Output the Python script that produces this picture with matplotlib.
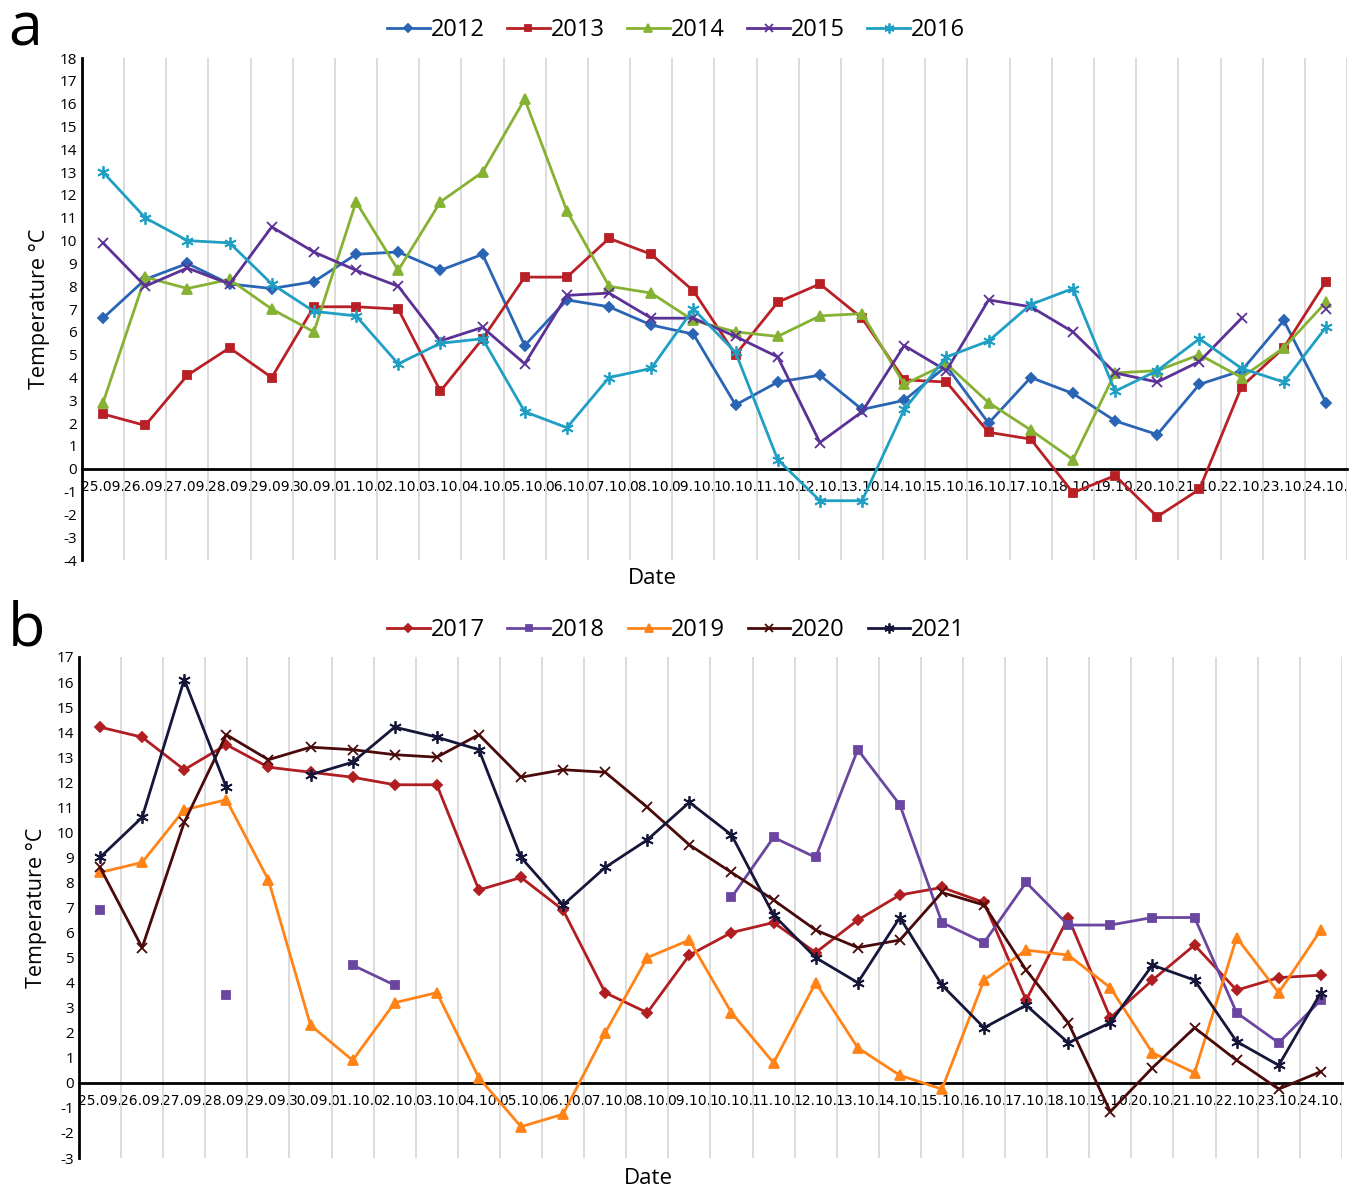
import numpy as np
import matplotlib
matplotlib.use("Agg")
import matplotlib.pyplot as plt

nan = np.nan

dates = ["25.09.", "26.09.", "27.09.", "28.09.", "29.09.", "30.09.",
         "01.10.", "02.10.", "03.10.", "04.10.", "05.10.", "06.10.", "07.10.",
         "08.10.", "09.10.", "10.10.", "11.10.", "12.10.", "13.10.", "14.10.",
         "15.10.", "16.10.", "17.10.", "18.10.", "19.10.", "20.10.", "21.10.",
         "22.10.", "23.10.", "24.10."]

# panel a
t2012 = [6.6, 8.3, 9.0, 8.1, 7.9, 8.2, 9.4, 9.5, 8.7, 9.4, 5.4, 7.4, 7.1, 6.3, 5.9,
         2.8, 3.8, 4.1, 2.6, 3.0, 4.5, 2.0, 4.0, 3.3, 2.1, 1.5, 3.7, 4.3, 6.5, 2.9]
t2013 = [2.4, 1.9, 4.1, 5.3, 4.0, 7.1, 7.1, 7.0, 3.4, 5.7, 8.4, 8.4, 10.1, 9.4, 7.8,
         5.0, 7.3, 8.1, 6.6, 3.9, 3.8, 1.6, 1.3, -1.05, -0.3, -2.1, -0.9, 3.6, 5.3, 8.2]
t2014 = [2.9, 8.4, 7.9, 8.3, 7.0, 6.0, 11.7, 8.7, 11.7, 13.0, 16.2, 11.3, 8.0, 7.7, 6.5,
         6.0, 5.8, 6.7, 6.8, 3.7, 4.6, 2.9, 1.7, 0.4, 4.2, 4.3, 5.0, 4.0, 5.3, 7.3]
t2015 = [9.9, 8.0, 8.8, 8.1, 10.6, 9.5, 8.7, 8.0, 5.6, 6.2, 4.6, 7.6, 7.7, 6.6, 6.6,
         5.8, 4.9, 1.15, 2.5, 5.4, 4.3, 7.4, 7.1, 6.0, 4.2, 3.8, 4.7, 6.6, nan, 7.0]
t2016 = [13.0, 11.0, 10.0, 9.9, 8.1, 6.9, 6.7, 4.6, 5.5, 5.7, 2.5, 1.8, 4.0, 4.4, 7.0,
         5.1, 0.4, -1.4, -1.4, 2.6, 4.9, 5.6, 7.2, 7.9, 3.4, 4.3, 5.7, 4.4, 3.8, 6.2]

# panel b
t2017 = [14.2, 13.8, 12.5, 13.5, 12.6, 12.4, 12.2, 11.9, 11.9, 7.7, 8.2, 6.9, 3.6, 2.8, 5.1,
         6.0, 6.4, 5.2, 6.5, 7.5, 7.8, 7.2, 3.3, 6.6, 2.6, 4.1, 5.5, 3.7, 4.2, 4.3]
t2018 = [6.9, nan, nan, 3.5, nan, nan, 4.7, 3.9, nan, nan, nan, nan, nan, nan, nan,
         7.4, 9.8, 9.0, 13.3, 11.1, 6.4, 5.6, 8.0, 6.3, 6.3, 6.6, 6.6, 2.8, 1.6, 3.3]
t2019 = [8.4, 8.8, 10.9, 11.3, 8.1, 2.3, 0.9, 3.2, 3.6, 0.2, -1.75, -1.25, 2.0, 5.0, 5.7,
         2.8, 0.8, 4.0, 1.4, 0.3, -0.25, 4.1, 5.3, 5.1, 3.8, 1.2, 0.4, 5.8, 3.6, 6.1]
t2020 = [8.6, 5.4, 10.4, 13.9, 12.9, 13.4, 13.3, 13.1, 13.0, 13.9, 12.2, 12.5, 12.4, 11.0, 9.5,
         8.4, 7.3, 6.1, 5.4, 5.7, 7.6, 7.1, 4.5, 2.4, -1.15, 0.6, 2.2, 0.9, -0.25, 0.45]
t2021 = [9.0, 10.6, 16.1, 11.8, nan, 12.3, 12.8, 14.2, 13.8, 13.3, 9.0, 7.1, 8.6, 9.7, 11.2,
         9.9, 6.7, 5.0, 4.0, 6.6, 3.9, 2.2, 3.1, 1.6, 2.4, 4.7, 4.1, 1.65, 0.7, 3.6]

series_a = [("2012", t2012, "#2a64b4", "D", 5),
            ("2013", t2013, "#b82025", "s", 6),
            ("2014", t2014, "#86b233", "^", 7),
            ("2015", t2015, "#5b3196", "x", 7),
            ("2016", t2016, "#1f9fc4", (6, 2, 0), 9)]
series_b = [("2017", t2017, "#b01e22", "D", 5),
            ("2018", t2018, "#6a46a0", "s", 6),
            ("2019", t2019, "#ff8317", "^", 7),
            ("2020", t2020, "#4a0a0a", "x", 7),
            ("2021", t2021, "#16163a", (6, 2, 0), 9)]

fig = plt.figure(figsize=(13.55, 12), dpi=100)
ax_a = fig.add_axes([0.0605, 0.5333, 0.9336, 0.4183])
ax_b = fig.add_axes([0.0583, 0.035, 0.932, 0.4175])

x = np.arange(len(dates))


def draw_panel(ax, series, ymin, ymax, letter, legend_y, date_x, date_y):
    handles = []
    for name, vals, col, mk, ms in series:
        h, = ax.plot(x, vals, color=col, lw=2, marker=mk, markersize=ms,
                     markerfacecolor=col, markeredgecolor=col, markeredgewidth=1.3,
                     label=name, zorder=3)
        handles.append(h)
    ax.set_xlim(-0.5, len(dates) - 0.5)
    ax.set_ylim(ymin, ymax)
    ax.set_yticks(np.arange(ymin, ymax + 1, 1))
    ax.set_yticklabels([str(v) for v in range(ymin, ymax + 1)],
                       fontsize=11, family="Open Sans")
    ax.set_xticks(x)
    ax.set_xticklabels(dates, fontsize=9.5, family="DejaVu Sans")
    ax.set_xticks(np.arange(-0.5, len(dates), 1)[1:], minor=True)
    ax.grid(True, which="minor", axis="x", color="#d9d9d9", lw=1.3)
    ax.grid(False, which="major")
    ax.tick_params(axis="both", which="both", length=0)
    ax.tick_params(axis="x", pad=8)
    ax.spines["top"].set_visible(False)
    ax.spines["right"].set_visible(False)
    ax.spines["bottom"].set_position(("data", 0))
    ax.spines["bottom"].set_linewidth(2)
    ax.spines["left"].set_linewidth(2)
    ax.set_ylabel("Temperature °C", fontsize=15.5, family="Open Sans", labelpad=7)
    fig.text(date_x, date_y, "Date", ha="center", va="center",
             fontsize=16, family="Open Sans")
    ax.legend(handles=handles, loc="center", bbox_to_anchor=(0.499, legend_y),
              bbox_transform=fig.transFigure, ncol=5, frameon=False,
              prop={"family": "Open Sans", "size": 17}, handlelength=1.8,
              handletextpad=0.05, columnspacing=0.95, markerscale=0.8)
    fig.text(0.006, legend_y, letter, fontsize=44,
             family="Open Sans", va="center", ha="left")


draw_panel(ax_a, series_a, -4, 18, "a", 0.975, 652 / 1355, 1 - 578 / 1200)
draw_panel(ax_b, series_b, -3, 17, "b", 0.475, 648 / 1355, 1 - 1178 / 1200)

fig.savefig("out.png", dpi=100)
